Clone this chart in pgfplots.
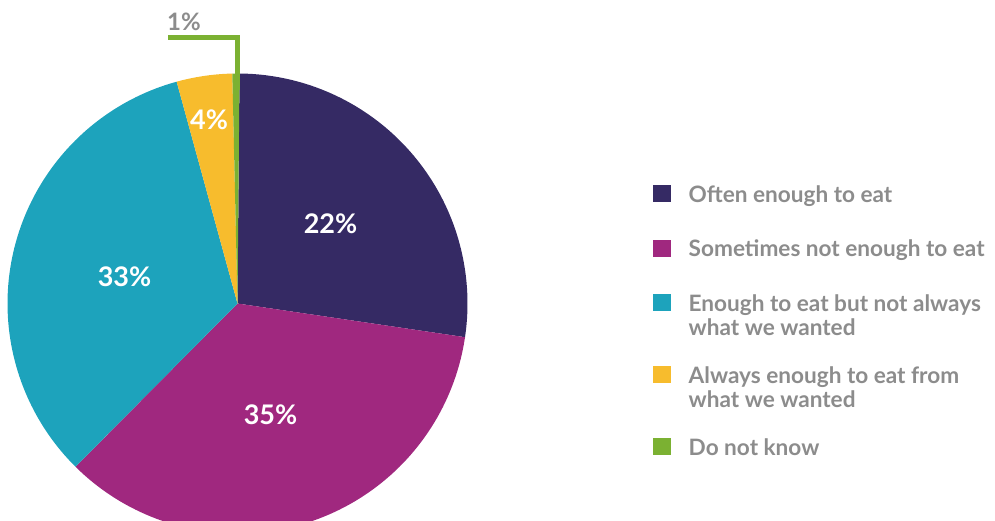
\documentclass[border=0pt]{standalone}
\usepackage{pgfplots}
\pgfplotsset{compat=1.18}
\usepackage{fontspec}
\setmainfont{Lato}

\definecolor{often}{HTML}{352A64}
\definecolor{sometimes}{HTML}{A0287F}
\definecolor{notalways}{HTML}{1DA3BC}
\definecolor{always}{HTML}{F7BC2D}
\definecolor{dontknow}{HTML}{7BB132}
\definecolor{labelgray}{HTML}{8C8C8C}

% one pie slice between two angles (degrees), centre (237.5,216.5), radius 230
% #4: extra room below the legend square (for two-line entries)
\newcommand{\slice}[4]{%
  \addplot[draw=none, fill=#3, domain=#1:#2, samples=90,
    legend image code/.code={\fill[#3] (0pt,0pt) rectangle (18pt,17pt);
                             \path[draw=none, fill=none] (0pt,-#4) rectangle (1pt,0pt);}]
    ({237.5+230*cos(x)}, {216.5+230*sin(x)}) -- (axis cs:237.5,216.5) -- cycle;}
% legend text: first line on the baseline
\newcommand{\lent}[1]{\raisebox{0pt}[17pt][0pt]{\begin{tabular}[t]{@{}l@{}}#1\end{tabular}}}

\begin{document}
\begin{tikzpicture}
% shares of the circle as drawn (percent), clockwise from the top
\pgfmathsetmacro\aA{89.5}
\pgfmathsetmacro\aB{\aA-27.2*3.6}
\pgfmathsetmacro\aC{\aB-35.1*3.6}
\pgfmathsetmacro\aD{\aC-33.3*3.6}
\pgfmathsetmacro\aE{\aD-3.9*3.6}
\pgfmathsetmacro\aF{\aE-0.5*3.6}
\begin{axis}[
    name=ax,
    hide axis,
    scale only axis,
    width=995pt, height=520pt,
    xmin=0, xmax=995, ymin=0, ymax=520,
    legend style={
        at={(axis cs:652.7,335)}, anchor=north west,
        draw=none, fill=none, inner sep=0pt, outer sep=0pt,
        row sep=36pt, column sep=18pt,
        font=\fontsize{22.6}{24.5}\selectfont\bfseries,
        text=labelgray,
        nodes={inner sep=0pt, outer sep=0pt},
        cells={anchor=base west}
    }
]
\slice{\aB}{\aA}{often}{0pt}
\addlegendentry{\lent{Often enough to eat}}
\slice{\aC}{\aB}{sometimes}{0pt}
\addlegendentry{\lent{Sometimes not enough to eat}}
\slice{\aD}{\aC}{notalways}{19pt}
\addlegendentry{\lent{Enough to eat but not always\\what we wanted}}
\slice{\aE}{\aD}{always}{19pt}
\addlegendentry{\lent{Always enough to eat from\\what we wanted}}
\slice{\aF}{\aE}{dontknow}{0pt}
\addlegendentry{\lent{Do not know}}

\draw[dontknow, line width=5pt] (axis cs:168,482) -- (axis cs:237.7,482) -- (axis cs:237.7,430);

\begin{scope}[every node/.style={font=\fontsize{27}{30}\selectfont\bfseries, text=white, inner sep=0pt}]
\node at (axis cs:330.5,296) {22\%};
\node at (axis cs:270.5,105) {35\%};
\node at (axis cs:124.5,243) {33\%};
\node at (axis cs:209,400.5) {4\%};
\end{scope}
\node[anchor=base west, inner sep=0pt, text=labelgray,
      font=\fontsize{24}{26}\selectfont\bfseries] at (axis cs:167,489.5) {1\%};
\end{axis}
\pgfresetboundingbox
\path[use as bounding box] (ax.south west) rectangle (ax.north east);
\end{tikzpicture}
\end{document}
